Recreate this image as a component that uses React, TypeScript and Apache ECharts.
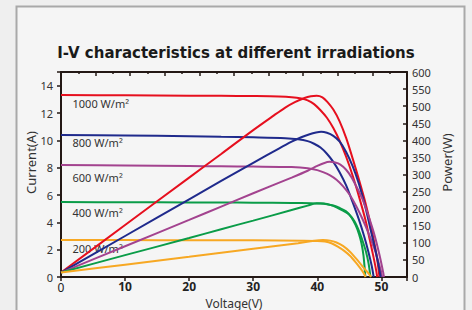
import React, { useEffect, useRef } from "react";
import * as echarts from "echarts";

// ---------- data ----------
const irradianceLabels = ["1000 W/m²", "800 W/m²", "600 W/m²", "400 W/m²", "200 W/m²"];
const seriesColors = ["#e60f1e", "#1f2a8c", "#a3438f", "#0a9c48", "#f7a823"];

// I-V curves: [voltage V, current A]
const iv1000 = [[0,13.31],[10,13.29],[20,13.27],[25,13.26],[30,13.24],[34,13.21],[36,13.16],[37.5,13.06],[38.5,12.92],[39.5,12.65],[40.5,12.2],[41.5,11.65],[42.5,10.9],[43.5,9.95],[44.5,8.8],[45.5,7.45],[46.5,5.9],[47.5,4.2],[48.2,2.7],[48.8,1.4],[49.2,0.45],[49.35,0]];
const iv800 = [[0,10.39],[10,10.35],[20,10.3],[25,10.26],[30,10.22],[35,10.16],[37,10.08],[38.5,9.94],[39.5,9.75],[40.5,9.47],[41.5,9.02],[42.5,8.42],[43.5,7.65],[44.5,6.7],[45.5,5.5],[46.5,4.2],[47.3,3.0],[48,1.8],[48.5,0.8],[48.8,0]];
const iv600 = [[0,8.19],[10,8.16],[20,8.12],[25,8.1],[30,8.08],[36,8.04],[38.5,7.96],[40,7.82],[41,7.66],[42,7.44],[43,7.12],[44,6.65],[45,6.05],[46,5.25],[47,4.3],[48,3.2],[49,1.95],[49.6,1.0],[50,0.3],[50.1,0]];
const iv400 = [[0,5.48],[10,5.47],[20,5.46],[25,5.45],[30,5.44],[36,5.42],[39,5.4],[40.5,5.37],[41.5,5.32],[42.5,5.23],[43.5,5.05],[44.5,4.8],[45.3,4.38],[46,3.78],[46.5,3.15],[46.9,2.45],[47.2,1.6],[47.4,0.6],[47.5,0]];
const iv200 = [[0,2.71],[10,2.7],[20,2.69],[25,2.685],[30,2.68],[38,2.66],[40,2.64],[41.2,2.59],[42.2,2.47],[43.2,2.22],[44.2,1.91],[45.1,1.55],[46,1.07],[46.7,0.65],[47.2,0.32],[47.55,0]];

// P-V curves: [voltage V, power W]
const pv1000 = [[0,13],[10,152],[20,291],[25,360],[30,430],[33,470],[35,496],[36.5,512],[38,524],[39,529],[39.9,530.5],[40.8,526],[41.6,512],[42.5,490],[43.5,455],[44.5,407],[45.5,348],[46.5,285],[47.5,218],[48.3,155],[49,90],[49.4,45],[49.7,0]];
const pv800 = [[0,13],[10,120],[20,227],[25,281],[30,334],[34,376],[36,396],[37.5,409],[38.8,418],[39.8,423],[40.6,425],[41.5,422],[42.5,413],[43.5,396],[44.5,366],[45.5,325],[46.5,272],[47.5,205],[48.3,140],[49,85],[49.5,40],[49.9,0]];
const pv600 = [[0,13],[10,90],[20,167],[25,206],[30,245],[36,291],[38.5,311],[40,325],[41,333],[41.9,337],[42.8,335],[43.6,329],[44.5,314],[45.3,293],[46.1,265],[47,230],[48,178],[49,118],[49.7,65],[50.3,12],[50.4,0]];
const pv400 = [[0,13],[10,64],[20,114],[25,140],[30,165],[36,196],[38.5,209],[39.9,216],[41,215],[42,211],[43,204],[44,194],[45,182],[45.8,163],[46.5,135],[47.1,104],[47.6,74],[48,40],[48.3,0]];
const pv200 = [[0,13],[10,36],[20,59],[25,71],[30,83],[37,99],[39.5,106],[40.9,108],[42,106.5],[43,101],[44,91],[45.1,74],[46,55],[46.9,35],[47.6,19],[48.1,8],[48.4,0]];

const ivCurves = [iv1000, iv800, iv600, iv400, iv200];
const pvCurves = [pv1000, pv800, pv600, pv400, pv200];

const voltageTicks = [0, 10, 20, 30, 40, 50];

export default function App() {
  const ref = useRef<HTMLDivElement>(null);
  useEffect(() => {
    if (!ref.current) return;
    const chart = echarts.init(ref.current, undefined, { renderer: "svg" });
    const font = "Noto Sans";
    const axisColor = "#231815";
    const labelOffsets = [8, 7, 12, 10, 9];
    const labelVoltage = 1.8;

    const series: any[] = [];
    ivCurves.forEach((d, i) => {
      series.push({
        type: "line",
        name: irradianceLabels[i] + " I",
        xAxisIndex: 0,
        yAxisIndex: 0,
        data: d,
        smooth: 0.3,
        symbol: "none",
        lineStyle: { color: seriesColors[i], width: 2 },
        z: 3,
        markPoint: {
          symbol: "circle",
          symbolSize: 0,
          silent: true,
          z: 1,
          data: [
            {
              coord: [labelVoltage, d[0][1]],
              label: {
                show: true,
                position: "right",
                distance: 0,
                offset: [0, labelOffsets[i]],
                formatter: irradianceLabels[i],
                color: "#333",
                fontSize: 11,
                fontFamily: font,
              },
            },
          ],
        },
      });
    });
    pvCurves.forEach((d, i) => {
      series.push({
        type: "line",
        name: irradianceLabels[i] + " P",
        xAxisIndex: 0,
        yAxisIndex: 1,
        data: d,
        smooth: 0.3,
        symbol: "none",
        lineStyle: { color: seriesColors[i], width: 2 },
        z: 3,
      });
    });

    chart.setOption({
      animation: false,
      backgroundColor: "#efefef",
      graphic: [
        {
          type: "rect",
          shape: { x: 16.5, y: 6.5, width: 448, height: 330 },
          style: { fill: "#f5f5f5", stroke: "#a9a9a9", lineWidth: 2 },
          z: -10,
          silent: true,
        },
      ],
      title: {
        text: "I-V characteristics at different irradiations",
        left: "center",
        top: 40,
        textStyle: {
          fontFamily: "DejaVu Sans",
          fontWeight: "bold",
          fontSize: 15,
          color: "#1a1a1a",
        },
      },
      grid: { left: 61, right: 65, top: 72, bottom: 33, outerBoundsMode: "none" },
      xAxis: [
        {
          type: "value",
          position: "bottom",
          min: 0,
          max: 54,
          interval: 10,
          name: "Voltage(V)",
          nameLocation: "middle",
          nameGap: 20,
          nameMoveOverlap: false,
          nameTextStyle: { fontFamily: font, fontSize: 12, lineHeight: 12, color: "#333" },
          axisLine: { show: true, onZero: false, lineStyle: { color: axisColor, width: 2 } },
          axisTick: { show: true, inside: false, length: 4, lineStyle: { color: axisColor, width: 1.5 } },
          splitLine: { show: false },
          axisLabel: {
            margin: 3,
            formatter: (v: number) =>
              voltageTicks.includes(v) ? (v === 0 ? "{n|0}" : "{b|" + v + "}") : "",
            rich: {
              n: { fontFamily: font, fontSize: 12, lineHeight: 12, color: "#222", padding: [2, 0, 0, 0] },
              b: { fontFamily: font, fontSize: 12, lineHeight: 12, fontWeight: "bold", color: "#222" },
            },
          },
        },
        {
          type: "value",
          position: "top",
          min: 0,
          max: 10,
          interval: 1,
          axisLine: { show: true, onZero: false, lineStyle: { color: axisColor, width: 2 } },
          axisTick: { show: true, inside: true, length: 4, lineStyle: { color: axisColor, width: 1.5 } },
          minorTick: { show: true, splitNumber: 2, length: 2, lineStyle: { color: axisColor, width: 1.5 } },
          axisLabel: { show: false },
          splitLine: { show: false },
        },
      ],
      yAxis: [
        {
          type: "value",
          position: "left",
          min: 0,
          max: 15,
          interval: 2,
          name: "Current(A)",
          nameLocation: "middle",
          nameRotate: 90,
          nameGap: 24,
          nameMoveOverlap: false,
          nameTextStyle: { fontFamily: font, fontSize: 13, color: "#333", padding: [0, 0, 0, 24] },
          axisLine: { show: true, onZero: false, lineStyle: { color: axisColor, width: 2 } },
          axisTick: { show: true, inside: false, length: 4, lineStyle: { color: axisColor, width: 1.5 } },
          splitLine: { show: false },
          axisLabel: {
            margin: 8,
            fontFamily: font,
            fontSize: 11,
            color: "#333",
            formatter: (v: number) => (v % 2 === 0 ? String(v) : ""),
          },
        },
        {
          type: "value",
          position: "right",
          min: 0,
          max: 600,
          interval: 50,
          name: "Power(W)",
          nameLocation: "middle",
          nameRotate: 90,
          nameGap: 33,
          nameMoveOverlap: false,
          nameTextStyle: { fontFamily: font, fontSize: 13, color: "#333", padding: [0, 0, 0, 24] },
          axisLine: { show: true, onZero: false, lineStyle: { color: axisColor, width: 2 } },
          axisTick: { show: true, inside: true, length: 4, lineStyle: { color: axisColor, width: 1.5 } },
          splitLine: { show: false },
          axisLabel: { margin: 5, fontFamily: font, fontSize: 11, color: "#333" },
        },
      ],
      series,
    });
    return () => chart.dispose();
  }, []);
  return (
    <div
      ref={ref}
      style={{ position: "fixed", left: 0, top: 0, width: 472, height: 310 }}
    />
  );
}
